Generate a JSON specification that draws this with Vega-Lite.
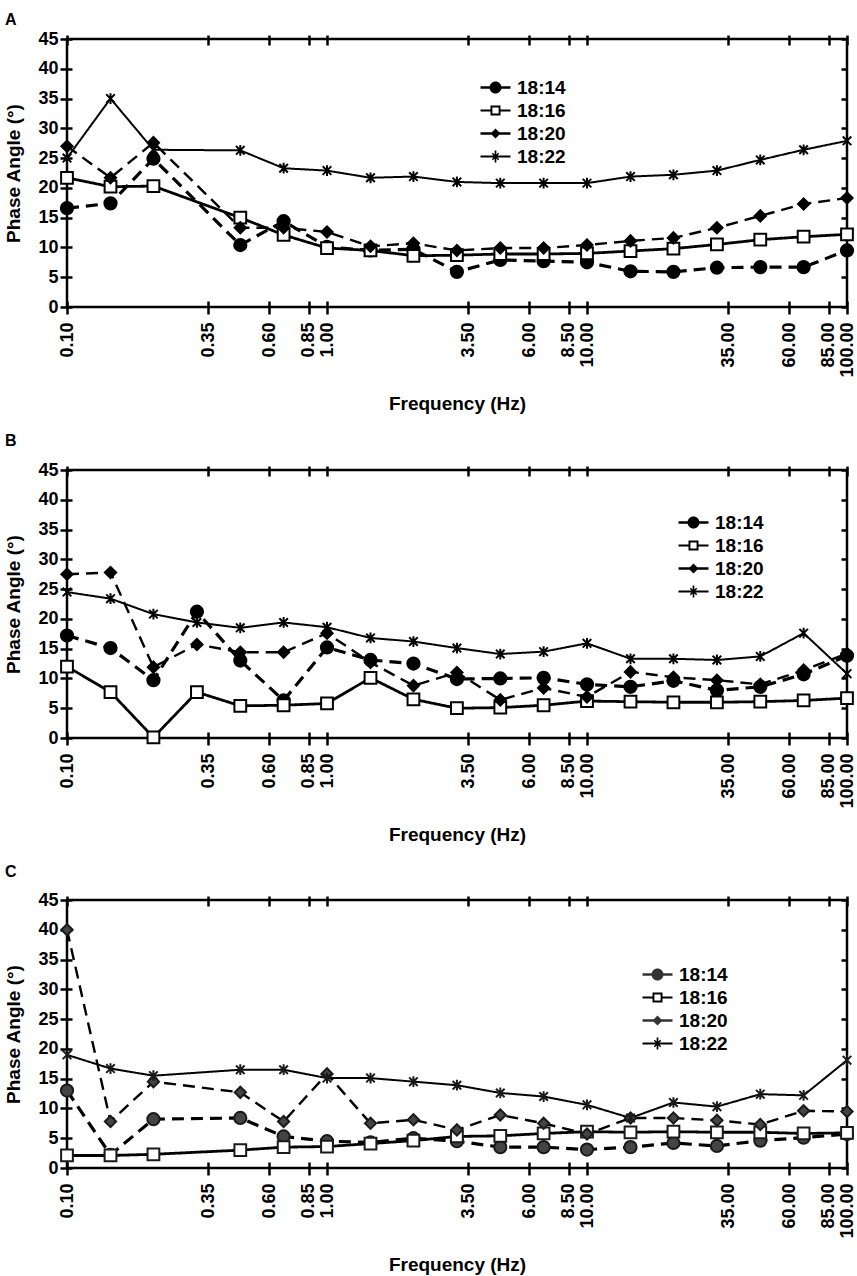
{
"$schema": "https://vega.github.io/schema/vega-lite/v6.json",
"padding": {"left": 3, "top": 10, "right": 3, "bottom": 0},
"spacing": 16,
"data": {"values": [
{"p":"A","s":"18:14","f":0.1,"v":16.6},{"p":"A","s":"18:14","f":0.147,"v":17.4},{"p":"A","s":"18:14","f":0.215,"v":24.9},{"p":"A","s":"18:14","f":0.464,"v":10.4},{"p":"A","s":"18:14","f":0.681,"v":14.4},{"p":"A","s":"18:14","f":1,"v":10.1},{"p":"A","s":"18:14","f":1.47,"v":9.5},{"p":"A","s":"18:14","f":2.15,"v":9.7},{"p":"A","s":"18:14","f":3.16,"v":5.9},{"p":"A","s":"18:14","f":4.64,"v":7.9},{"p":"A","s":"18:14","f":6.81,"v":7.7},{"p":"A","s":"18:14","f":10,"v":7.5},{"p":"A","s":"18:14","f":14.7,"v":6.0},{"p":"A","s":"18:14","f":21.5,"v":5.9},{"p":"A","s":"18:14","f":31.6,"v":6.6},{"p":"A","s":"18:14","f":46.4,"v":6.7},{"p":"A","s":"18:14","f":68.1,"v":6.7},{"p":"A","s":"18:14","f":100,"v":9.5},
{"p":"A","s":"18:16","f":0.1,"v":21.7},{"p":"A","s":"18:16","f":0.147,"v":20.2},{"p":"A","s":"18:16","f":0.215,"v":20.3},{"p":"A","s":"18:16","f":0.464,"v":15.0},{"p":"A","s":"18:16","f":0.681,"v":12.1},{"p":"A","s":"18:16","f":1,"v":9.9},{"p":"A","s":"18:16","f":1.47,"v":9.5},{"p":"A","s":"18:16","f":2.15,"v":8.6},{"p":"A","s":"18:16","f":3.16,"v":8.7},{"p":"A","s":"18:16","f":4.64,"v":8.9},{"p":"A","s":"18:16","f":6.81,"v":8.9},{"p":"A","s":"18:16","f":10,"v":9.0},{"p":"A","s":"18:16","f":14.7,"v":9.4},{"p":"A","s":"18:16","f":21.5,"v":9.8},{"p":"A","s":"18:16","f":31.6,"v":10.5},{"p":"A","s":"18:16","f":46.4,"v":11.3},{"p":"A","s":"18:16","f":68.1,"v":11.8},{"p":"A","s":"18:16","f":100,"v":12.2},
{"p":"A","s":"18:20","f":0.1,"v":27.0},{"p":"A","s":"18:20","f":0.147,"v":21.7},{"p":"A","s":"18:20","f":0.215,"v":27.6},{"p":"A","s":"18:20","f":0.464,"v":13.3},{"p":"A","s":"18:20","f":0.681,"v":13.3},{"p":"A","s":"18:20","f":1,"v":12.6},{"p":"A","s":"18:20","f":1.47,"v":10.2},{"p":"A","s":"18:20","f":2.15,"v":10.7},{"p":"A","s":"18:20","f":3.16,"v":9.5},{"p":"A","s":"18:20","f":4.64,"v":9.9},{"p":"A","s":"18:20","f":6.81,"v":9.9},{"p":"A","s":"18:20","f":10,"v":10.4},{"p":"A","s":"18:20","f":14.7,"v":11.1},{"p":"A","s":"18:20","f":21.5,"v":11.6},{"p":"A","s":"18:20","f":31.6,"v":13.3},{"p":"A","s":"18:20","f":46.4,"v":15.3},{"p":"A","s":"18:20","f":68.1,"v":17.3},{"p":"A","s":"18:20","f":100,"v":18.3},
{"p":"A","s":"18:22","f":0.1,"v":25.0},{"p":"A","s":"18:22","f":0.147,"v":35.0},{"p":"A","s":"18:22","f":0.215,"v":26.4},{"p":"A","s":"18:22","f":0.464,"v":26.3},{"p":"A","s":"18:22","f":0.681,"v":23.3},{"p":"A","s":"18:22","f":1,"v":22.9},{"p":"A","s":"18:22","f":1.47,"v":21.7},{"p":"A","s":"18:22","f":2.15,"v":21.9},{"p":"A","s":"18:22","f":3.16,"v":21.0},{"p":"A","s":"18:22","f":4.64,"v":20.8},{"p":"A","s":"18:22","f":6.81,"v":20.8},{"p":"A","s":"18:22","f":10,"v":20.8},{"p":"A","s":"18:22","f":14.7,"v":21.9},{"p":"A","s":"18:22","f":21.5,"v":22.2},{"p":"A","s":"18:22","f":31.6,"v":22.9},{"p":"A","s":"18:22","f":46.4,"v":24.7},{"p":"A","s":"18:22","f":68.1,"v":26.4},{"p":"A","s":"18:22","f":100,"v":27.9},
{"p":"B","s":"18:14","f":0.1,"v":17.2},{"p":"B","s":"18:14","f":0.147,"v":15.1},{"p":"B","s":"18:14","f":0.215,"v":9.7},{"p":"B","s":"18:14","f":0.316,"v":21.2},{"p":"B","s":"18:14","f":0.464,"v":13.0},{"p":"B","s":"18:14","f":0.681,"v":6.3},{"p":"B","s":"18:14","f":1,"v":15.2},{"p":"B","s":"18:14","f":1.47,"v":13.1},{"p":"B","s":"18:14","f":2.15,"v":12.5},{"p":"B","s":"18:14","f":3.16,"v":9.9},{"p":"B","s":"18:14","f":4.64,"v":10.0},{"p":"B","s":"18:14","f":6.81,"v":10.1},{"p":"B","s":"18:14","f":10,"v":9.0},{"p":"B","s":"18:14","f":14.7,"v":8.6},{"p":"B","s":"18:14","f":21.5,"v":9.6},{"p":"B","s":"18:14","f":31.6,"v":8.0},{"p":"B","s":"18:14","f":46.4,"v":8.6},{"p":"B","s":"18:14","f":68.1,"v":10.7},{"p":"B","s":"18:14","f":100,"v":13.8},
{"p":"B","s":"18:16","f":0.1,"v":12.0},{"p":"B","s":"18:16","f":0.147,"v":7.7},{"p":"B","s":"18:16","f":0.215,"v":0.1},{"p":"B","s":"18:16","f":0.316,"v":7.7},{"p":"B","s":"18:16","f":0.464,"v":5.4},{"p":"B","s":"18:16","f":0.681,"v":5.5},{"p":"B","s":"18:16","f":1,"v":5.8},{"p":"B","s":"18:16","f":1.47,"v":10.1},{"p":"B","s":"18:16","f":2.15,"v":6.5},{"p":"B","s":"18:16","f":3.16,"v":5.0},{"p":"B","s":"18:16","f":4.64,"v":5.1},{"p":"B","s":"18:16","f":6.81,"v":5.5},{"p":"B","s":"18:16","f":10,"v":6.2},{"p":"B","s":"18:16","f":14.7,"v":6.1},{"p":"B","s":"18:16","f":21.5,"v":6.0},{"p":"B","s":"18:16","f":31.6,"v":6.0},{"p":"B","s":"18:16","f":46.4,"v":6.1},{"p":"B","s":"18:16","f":68.1,"v":6.3},{"p":"B","s":"18:16","f":100,"v":6.7},
{"p":"B","s":"18:20","f":0.1,"v":27.5},{"p":"B","s":"18:20","f":0.147,"v":27.8},{"p":"B","s":"18:20","f":0.215,"v":11.9},{"p":"B","s":"18:20","f":0.316,"v":15.7},{"p":"B","s":"18:20","f":0.464,"v":14.4},{"p":"B","s":"18:20","f":0.681,"v":14.4},{"p":"B","s":"18:20","f":1,"v":17.6},{"p":"B","s":"18:20","f":1.47,"v":12.7},{"p":"B","s":"18:20","f":2.15,"v":8.8},{"p":"B","s":"18:20","f":3.16,"v":11.0},{"p":"B","s":"18:20","f":4.64,"v":6.4},{"p":"B","s":"18:20","f":6.81,"v":8.4},{"p":"B","s":"18:20","f":10,"v":6.9},{"p":"B","s":"18:20","f":14.7,"v":11.1},{"p":"B","s":"18:20","f":21.5,"v":10.2},{"p":"B","s":"18:20","f":31.6,"v":9.7},{"p":"B","s":"18:20","f":46.4,"v":9.0},{"p":"B","s":"18:20","f":68.1,"v":11.4},{"p":"B","s":"18:20","f":100,"v":14.2},
{"p":"B","s":"18:22","f":0.1,"v":24.5},{"p":"B","s":"18:22","f":0.147,"v":23.4},{"p":"B","s":"18:22","f":0.215,"v":20.8},{"p":"B","s":"18:22","f":0.316,"v":19.4},{"p":"B","s":"18:22","f":0.464,"v":18.5},{"p":"B","s":"18:22","f":0.681,"v":19.4},{"p":"B","s":"18:22","f":1,"v":18.6},{"p":"B","s":"18:22","f":1.47,"v":16.8},{"p":"B","s":"18:22","f":2.15,"v":16.2},{"p":"B","s":"18:22","f":3.16,"v":15.1},{"p":"B","s":"18:22","f":4.64,"v":14.1},{"p":"B","s":"18:22","f":6.81,"v":14.5},{"p":"B","s":"18:22","f":10,"v":15.9},{"p":"B","s":"18:22","f":14.7,"v":13.3},{"p":"B","s":"18:22","f":21.5,"v":13.3},{"p":"B","s":"18:22","f":31.6,"v":13.1},{"p":"B","s":"18:22","f":46.4,"v":13.7},{"p":"B","s":"18:22","f":68.1,"v":17.6},{"p":"B","s":"18:22","f":100,"v":10.8},
{"p":"C","s":"18:14","f":0.1,"v":13.0},{"p":"C","s":"18:14","f":0.147,"v":2.2},{"p":"C","s":"18:14","f":0.215,"v":8.2},{"p":"C","s":"18:14","f":0.464,"v":8.4},{"p":"C","s":"18:14","f":0.681,"v":5.3},{"p":"C","s":"18:14","f":1,"v":4.5},{"p":"C","s":"18:14","f":1.47,"v":4.3},{"p":"C","s":"18:14","f":2.15,"v":5.0},{"p":"C","s":"18:14","f":3.16,"v":4.5},{"p":"C","s":"18:14","f":4.64,"v":3.5},{"p":"C","s":"18:14","f":6.81,"v":3.5},{"p":"C","s":"18:14","f":10,"v":3.1},{"p":"C","s":"18:14","f":14.7,"v":3.5},{"p":"C","s":"18:14","f":21.5,"v":4.2},{"p":"C","s":"18:14","f":31.6,"v":3.7},{"p":"C","s":"18:14","f":46.4,"v":4.6},{"p":"C","s":"18:14","f":68.1,"v":5.1},{"p":"C","s":"18:14","f":100,"v":5.7},
{"p":"C","s":"18:16","f":0.1,"v":2.1},{"p":"C","s":"18:16","f":0.147,"v":2.1},{"p":"C","s":"18:16","f":0.215,"v":2.3},{"p":"C","s":"18:16","f":0.464,"v":3.0},{"p":"C","s":"18:16","f":0.681,"v":3.5},{"p":"C","s":"18:16","f":1,"v":3.6},{"p":"C","s":"18:16","f":1.47,"v":4.1},{"p":"C","s":"18:16","f":2.15,"v":4.6},{"p":"C","s":"18:16","f":3.16,"v":5.3},{"p":"C","s":"18:16","f":4.64,"v":5.4},{"p":"C","s":"18:16","f":6.81,"v":5.8},{"p":"C","s":"18:16","f":10,"v":6.1},{"p":"C","s":"18:16","f":14.7,"v":6.0},{"p":"C","s":"18:16","f":21.5,"v":6.1},{"p":"C","s":"18:16","f":31.6,"v":6.0},{"p":"C","s":"18:16","f":46.4,"v":6.0},{"p":"C","s":"18:16","f":68.1,"v":5.8},{"p":"C","s":"18:16","f":100,"v":5.9},
{"p":"C","s":"18:20","f":0.1,"v":40.0},{"p":"C","s":"18:20","f":0.147,"v":7.8},{"p":"C","s":"18:20","f":0.215,"v":14.5},{"p":"C","s":"18:20","f":0.464,"v":12.7},{"p":"C","s":"18:20","f":0.681,"v":7.8},{"p":"C","s":"18:20","f":1,"v":15.8},{"p":"C","s":"18:20","f":1.47,"v":7.5},{"p":"C","s":"18:20","f":2.15,"v":8.1},{"p":"C","s":"18:20","f":3.16,"v":6.4},{"p":"C","s":"18:20","f":4.64,"v":8.9},{"p":"C","s":"18:20","f":6.81,"v":7.5},{"p":"C","s":"18:20","f":10,"v":5.7},{"p":"C","s":"18:20","f":14.7,"v":8.4},{"p":"C","s":"18:20","f":21.5,"v":8.4},{"p":"C","s":"18:20","f":31.6,"v":8.0},{"p":"C","s":"18:20","f":46.4,"v":7.3},{"p":"C","s":"18:20","f":68.1,"v":9.6},{"p":"C","s":"18:20","f":100,"v":9.5},
{"p":"C","s":"18:22","f":0.1,"v":19.0},{"p":"C","s":"18:22","f":0.147,"v":16.7},{"p":"C","s":"18:22","f":0.215,"v":15.5},{"p":"C","s":"18:22","f":0.464,"v":16.5},{"p":"C","s":"18:22","f":0.681,"v":16.5},{"p":"C","s":"18:22","f":1,"v":15.1},{"p":"C","s":"18:22","f":1.47,"v":15.1},{"p":"C","s":"18:22","f":2.15,"v":14.5},{"p":"C","s":"18:22","f":3.16,"v":13.9},{"p":"C","s":"18:22","f":4.64,"v":12.6},{"p":"C","s":"18:22","f":6.81,"v":12.0},{"p":"C","s":"18:22","f":10,"v":10.6},{"p":"C","s":"18:22","f":14.7,"v":8.4},{"p":"C","s":"18:22","f":21.5,"v":11.0},{"p":"C","s":"18:22","f":31.6,"v":10.3},{"p":"C","s":"18:22","f":46.4,"v":12.4},{"p":"C","s":"18:22","f":68.1,"v":12.2},{"p":"C","s":"18:22","f":100,"v":18.1}
]},
"config": {
  "font": "Liberation Sans",
  "view": {"stroke": "black", "strokeWidth": 2.5},
  "axis": {"labelFont": "Liberation Sans", "labelFontWeight": "bold", "labelFontSize": 18, "labelColor": "black", "titleFont": "Liberation Sans", "titleFontSize": 19, "titleFontWeight": "bold", "titleColor": "black", "tickColor": "black", "tickWidth": 2.5, "grid": false, "domain": false},
  "title": {"fontSize": 16, "fontWeight": "bold", "anchor": "start", "frame": "bounds", "font": "Liberation Sans", "color": "black"},
  "legend": {"title": null, "orient": "none", "labelFont": "Liberation Sans", "labelFontSize": 19, "labelFontWeight": "bold", "labelColor": "black", "symbolSize": 100, "labelOffset": 12, "rowPadding": 3}
},
"resolve": {"scale": {"shape": "independent", "fill": "independent", "size": "independent", "strokeDash": "independent", "strokeWidth": "independent"}, "legend": {"shape": "independent", "fill": "independent", "size": "independent", "strokeDash": "independent", "strokeWidth": "independent"}},
"vconcat": [
{
 "title": {"text": "A", "offset": 2.5},
 "width": 780, "height": 268,
 "transform": [{"filter": "datum.p == 'A'"}],
 "layer": [
  {"mark": {"type": "line", "color": "black"},
   "encoding": {
     "x": {"field": "f", "type": "quantitative", "scale": {"type": "log", "domain": [0.1, 100], "nice": false}, "axis": {"orient": "bottom", "values": [0.1,0.35,0.6,0.85,1,3.5,6,8.5,10,35,60,85,100], "format": ".2f", "labelAngle": 270, "labelAlign": "right", "labelBaseline": "middle", "labelOverlap": false, "labelFlush": false, "labelBound": false, "offset": -6, "tickSize": 13, "labelPadding": 8, "title": "Frequency (Hz)", "titlePadding": 17}},
     "y": {"field": "v", "type": "quantitative", "scale": {"domain": [0, 45], "nice": false}, "axis": {"orient": "left", "values": [0,5,10,15,20,25,30,35,40,45], "offset": -5, "tickSize": 12, "labelPadding": 2, "title": "Phase Angle (°)", "titlePadding": 14}},
     "strokeDash": {"field": "s", "type": "nominal", "scale": {"domain": ["18:14","18:16","18:20","18:22"], "range": [[12,7],[1,0],[12,7],[1,0]]}, "legend": null},
     "strokeWidth": {"field": "s", "type": "nominal", "scale": {"domain": ["18:14","18:16","18:20","18:22"], "range": [3.2,2,3.2,2]}, "legend": null}
   }},
  {"mark": {"type": "point", "filled": true, "stroke": "black", "strokeWidth": 2, "opacity": 1},
   "encoding": {
     "x": {"field": "f", "type": "quantitative", "scale": {"type": "log", "domain": [0.1, 100], "nice": false}, "axis": {"orient": "top", "values": [0.1,0.35,0.6,0.85,1,3.5,6,8.5,10,35,60,85,100], "labels": false, "title": null, "offset": -6, "tickSize": 10}},
     "y": {"field": "v", "type": "quantitative", "scale": {"domain": [0, 45], "nice": false}, "axis": {"orient": "right", "values": [0,5,10,15,20,25,30,35,40,45], "labels": false, "title": null, "offset": -6, "tickSize": 6}},
     "shape": {"field": "s", "type": "nominal", "scale": {"domain": ["18:14","18:16","18:20","18:22"], "range": ["circle","square","diamond","M0,-1V1M-0.8,-0.8L0.8,0.8M-0.8,0.8L0.8,-0.8"]}, "legend": null},
     "fill": {"field": "s", "type": "nominal", "scale": {"domain": ["18:14","18:16","18:20","18:22"], "range": ["black","white","black","black"]}, "legend": null},
     "size": {"field": "s", "type": "nominal", "scale": {"domain": ["18:14","18:16","18:20","18:22"], "range": [150,115,110,190]}, "legend": null}
   }},
  {"transform": [{"filter": "datum.f < 0"}],
   "mark": {"type": "point", "filled": true, "opacity": 1},
   "encoding": {
     "shape": {"field": "s", "type": "nominal", "scale": {"domain": ["18:14","18:16","18:20","18:22"], "range": ["M-3,-0.25H3V0.25H-3ZM-1.2,0A1.2,1.2 0 1,1 1.2,0A1.2,1.2 0 1,1 -1.2,0Z","M-3,-0.2H-1V0.2H-3ZM1,-0.2H3V0.2H1ZM-1,-1H1V1H-1ZM-0.62,-0.62V0.62H0.62V-0.62Z","M-3,-0.25H3V0.25H-3ZM0,-1L1,0L0,1L-1,0Z","M-3,-0.2H3V0.2H-3ZM-0.17,-1.2H0.17V1.2H-0.17ZM-0.53,-0.742L0.742,0.53L0.53,0.742L-0.742,-0.53ZM-0.742,0.53L0.53,-0.742L0.742,-0.53L-0.53,0.742Z"]}, "legend": {"legendX": 419, "legendY": 39}},
     "fill": {"field": "s", "type": "nominal", "scale": {"domain": ["18:14","18:16","18:20","18:22"], "range": ["black","black","black","black"]}, "legend": {"legendX": 419, "legendY": 39}}
   }}
 ],
 "resolve": {"axis": {"x": "independent", "y": "independent"}, "scale": {"shape": "independent", "fill": "independent", "size": "independent"}, "legend": {"shape": "independent", "fill": "independent"}}
},
{
 "title": {"text": "B", "offset": 12.5},
 "width": 780, "height": 268,
 "transform": [{"filter": "datum.p == 'B'"}],
 "layer": [
  {"mark": {"type": "line", "color": "black"},
   "encoding": {
     "x": {"field": "f", "type": "quantitative", "scale": {"type": "log", "domain": [0.1, 100], "nice": false}, "axis": {"orient": "bottom", "values": [0.1,0.35,0.6,0.85,1,3.5,6,8.5,10,35,60,85,100], "format": ".2f", "labelAngle": 270, "labelAlign": "right", "labelBaseline": "middle", "labelOverlap": false, "labelFlush": false, "labelBound": false, "offset": -6, "tickSize": 13, "labelPadding": 8, "title": "Frequency (Hz)", "titlePadding": 17}},
     "y": {"field": "v", "type": "quantitative", "scale": {"domain": [0, 45], "nice": false}, "axis": {"orient": "left", "values": [0,5,10,15,20,25,30,35,40,45], "offset": -5, "tickSize": 12, "labelPadding": 2, "title": "Phase Angle (°)", "titlePadding": 14}},
     "strokeDash": {"field": "s", "type": "nominal", "scale": {"domain": ["18:14","18:16","18:20","18:22"], "range": [[12,7],[1,0],[12,7],[1,0]]}, "legend": null},
     "strokeWidth": {"field": "s", "type": "nominal", "scale": {"domain": ["18:14","18:16","18:20","18:22"], "range": [3.2,2,3.2,2]}, "legend": null}
   }},
  {"mark": {"type": "point", "filled": true, "stroke": "black", "strokeWidth": 2, "opacity": 1},
   "encoding": {
     "x": {"field": "f", "type": "quantitative", "scale": {"type": "log", "domain": [0.1, 100], "nice": false}, "axis": {"orient": "top", "values": [0.1,0.35,0.6,0.85,1,3.5,6,8.5,10,35,60,85,100], "labels": false, "title": null, "offset": -6, "tickSize": 10}},
     "y": {"field": "v", "type": "quantitative", "scale": {"domain": [0, 45], "nice": false}, "axis": {"orient": "right", "values": [0,5,10,15,20,25,30,35,40,45], "labels": false, "title": null, "offset": -6, "tickSize": 6}},
     "shape": {"field": "s", "type": "nominal", "scale": {"domain": ["18:14","18:16","18:20","18:22"], "range": ["circle","square","diamond","M0,-1V1M-0.8,-0.8L0.8,0.8M-0.8,0.8L0.8,-0.8"]}, "legend": null},
     "fill": {"field": "s", "type": "nominal", "scale": {"domain": ["18:14","18:16","18:20","18:22"], "range": ["black","white","black","black"]}, "legend": null},
     "size": {"field": "s", "type": "nominal", "scale": {"domain": ["18:14","18:16","18:20","18:22"], "range": [150,115,110,190]}, "legend": null}
   }},
  {"transform": [{"filter": "datum.f < 0"}],
   "mark": {"type": "point", "filled": true, "opacity": 1},
   "encoding": {
     "shape": {"field": "s", "type": "nominal", "scale": {"domain": ["18:14","18:16","18:20","18:22"], "range": ["M-3,-0.25H3V0.25H-3ZM-1.2,0A1.2,1.2 0 1,1 1.2,0A1.2,1.2 0 1,1 -1.2,0Z","M-3,-0.2H-1V0.2H-3ZM1,-0.2H3V0.2H1ZM-1,-1H1V1H-1ZM-0.62,-0.62V0.62H0.62V-0.62Z","M-3,-0.25H3V0.25H-3ZM0,-1L1,0L0,1L-1,0Z","M-3,-0.2H3V0.2H-3ZM-0.17,-1.2H0.17V1.2H-0.17ZM-0.53,-0.742L0.742,0.53L0.53,0.742L-0.742,-0.53ZM-0.742,0.53L0.53,-0.742L0.742,-0.53L-0.53,0.742Z"]}, "legend": {"legendX": 617, "legendY": 43}},
     "fill": {"field": "s", "type": "nominal", "scale": {"domain": ["18:14","18:16","18:20","18:22"], "range": ["black","black","black","black"]}, "legend": {"legendX": 617, "legendY": 43}}
   }}
 ],
 "resolve": {"axis": {"x": "independent", "y": "independent"}, "scale": {"shape": "independent", "fill": "independent", "size": "independent"}, "legend": {"shape": "independent", "fill": "independent"}}
},
{
 "title": {"text": "C", "offset": 11.5},
 "width": 780, "height": 268,
 "transform": [{"filter": "datum.p == 'C'"}],
 "layer": [
  {"mark": {"type": "line", "color": "black"},
   "encoding": {
     "x": {"field": "f", "type": "quantitative", "scale": {"type": "log", "domain": [0.1, 100], "nice": false}, "axis": {"orient": "bottom", "values": [0.1,0.35,0.6,0.85,1,3.5,6,8.5,10,35,60,85,100], "format": ".2f", "labelAngle": 270, "labelAlign": "right", "labelBaseline": "middle", "labelOverlap": false, "labelFlush": false, "labelBound": false, "offset": -6, "tickSize": 13, "labelPadding": 8, "title": "Frequency (Hz)", "titlePadding": 17}},
     "y": {"field": "v", "type": "quantitative", "scale": {"domain": [0, 45], "nice": false}, "axis": {"orient": "left", "values": [0,5,10,15,20,25,30,35,40,45], "offset": -5, "tickSize": 12, "labelPadding": 2, "title": "Phase Angle (°)", "titlePadding": 14}},
     "strokeDash": {"field": "s", "type": "nominal", "scale": {"domain": ["18:14","18:16","18:20","18:22"], "range": [[12,7],[1,0],[12,7],[1,0]]}, "legend": null},
     "strokeWidth": {"field": "s", "type": "nominal", "scale": {"domain": ["18:14","18:16","18:20","18:22"], "range": [3.2,2,3.2,2]}, "legend": null}
   }},
  {"mark": {"type": "point", "filled": true, "stroke": "#1a1a1a", "strokeWidth": 2, "opacity": 1},
   "encoding": {
     "x": {"field": "f", "type": "quantitative", "scale": {"type": "log", "domain": [0.1, 100], "nice": false}, "axis": {"orient": "top", "values": [0.1,0.35,0.6,0.85,1,3.5,6,8.5,10,35,60,85,100], "labels": false, "title": null, "offset": -6, "tickSize": 10}},
     "y": {"field": "v", "type": "quantitative", "scale": {"domain": [0, 45], "nice": false}, "axis": {"orient": "right", "values": [0,5,10,15,20,25,30,35,40,45], "labels": false, "title": null, "offset": -6, "tickSize": 6}},
     "shape": {"field": "s", "type": "nominal", "scale": {"domain": ["18:14","18:16","18:20","18:22"], "range": ["circle","square","diamond","M0,-1V1M-0.8,-0.8L0.8,0.8M-0.8,0.8L0.8,-0.8"]}, "legend": null},
     "fill": {"field": "s", "type": "nominal", "scale": {"domain": ["18:14","18:16","18:20","18:22"], "range": ["#444444","white","#444444","black"]}, "legend": null},
     "size": {"field": "s", "type": "nominal", "scale": {"domain": ["18:14","18:16","18:20","18:22"], "range": [150,115,110,190]}, "legend": null}
   }},
  {"transform": [{"filter": "datum.f < 0"}],
   "mark": {"type": "point", "filled": true, "opacity": 1},
   "encoding": {
     "shape": {"field": "s", "type": "nominal", "scale": {"domain": ["18:14","18:16","18:20","18:22"], "range": ["M-3,-0.25H3V0.25H-3ZM-1.2,0A1.2,1.2 0 1,1 1.2,0A1.2,1.2 0 1,1 -1.2,0Z","M-3,-0.2H-1V0.2H-3ZM1,-0.2H3V0.2H1ZM-1,-1H1V1H-1ZM-0.62,-0.62V0.62H0.62V-0.62Z","M-3,-0.25H3V0.25H-3ZM0,-1L1,0L0,1L-1,0Z","M-3,-0.2H3V0.2H-3ZM-0.17,-1.2H0.17V1.2H-0.17ZM-0.53,-0.742L0.742,0.53L0.53,0.742L-0.742,-0.53ZM-0.742,0.53L0.53,-0.742L0.742,-0.53L-0.53,0.742Z"]}, "legend": {"legendX": 581, "legendY": 65}},
     "fill": {"field": "s", "type": "nominal", "scale": {"domain": ["18:14","18:16","18:20","18:22"], "range": ["#333333","black","#333333","black"]}, "legend": {"legendX": 581, "legendY": 65}}
   }}
 ],
 "resolve": {"axis": {"x": "independent", "y": "independent"}, "scale": {"shape": "independent", "fill": "independent", "size": "independent"}, "legend": {"shape": "independent", "fill": "independent"}}
}
]
}
